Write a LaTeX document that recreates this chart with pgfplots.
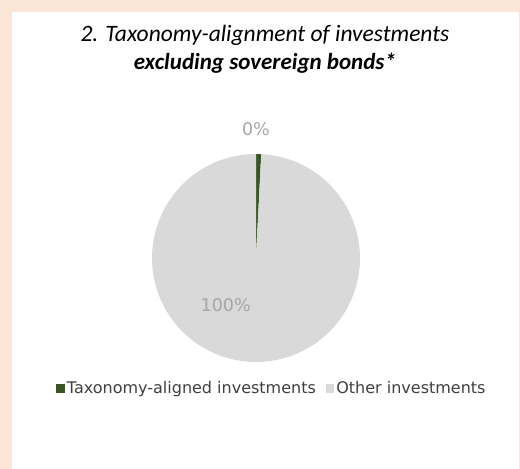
\documentclass[border=0pt]{standalone}
\usepackage{fontspec}
\setmainfont{Carlito}
\newfontfamily\verd{DejaVu Sans}
\usepackage{pgfplots}
\pgfplotsset{compat=1.18}
\usepgfplotslibrary{polar}
\usepackage{pgfplotstable}
\definecolor{peach}{HTML}{FBE5D6}
\definecolor{slicegreen}{HTML}{375623}
\definecolor{slicegray}{HTML}{D9D9D9}
\definecolor{labgray}{HTML}{A6A6A6}
\definecolor{legtext}{HTML}{404040}

% shares of the pie (percent)
\pgfplotstableread{
cat share
aligned 0.8
other 99.2
}\pietable
\pgfplotstablegetelem{0}{share}\of\pietable \let\shareA\pgfplotsretval
\pgfplotstablegetelem{1}{share}\of\pietable \let\shareB\pgfplotsretval
\pgfmathsetmacro\angA{90-3.6*\shareA}
\pgfmathsetmacro\angB{\angA-3.6*\shareB}

\begin{document}
\begin{tikzpicture}[x=1pt,y=1pt]
\fill[peach] (0,0) rectangle (520,469);
\fill[white] (12,0) rectangle (519,457);
\useasboundingbox (0,0) rectangle (520,469);
\node[font=\fontsize{23.5}{28}\selectfont\itshape] at (265,434) {2. Taxonomy-alignment of investments};
\node[font=\fontsize{23}{28}\selectfont\bfseries\itshape] at (265,406) {excluding sovereign bonds*};
\begin{polaraxis}[
  at={(256pt,211pt)}, anchor=origin,
  scale only axis, width=208pt, height=208pt,
  ymin=0, ymax=1, hide axis, clip=false,
  legend columns=2,
  legend style={at={(0.577,-0.125)}, anchor=center, draw=none, fill=none,
    font=\verd\fontsize{16}{19}\selectfont, text=legtext,
    /tikz/every even column/.append style={column sep=8pt},
    /tikz/every odd column/.append style={column sep=0pt}},
  legend image code/.code={\fill[#1] (0pt,-4.5pt) rectangle (8.5pt,4pt);},
]
\addplot[draw=none, fill=slicegreen, domain=\angA:90, samples=4] {1} -- (axis cs:0,0) -- cycle;
\addlegendentry{Taxonomy-aligned investments}
\addplot[draw=none, fill=slicegray, domain=\angB:\angA, samples=150] {1} -- (axis cs:0,0) -- cycle;
\addlegendentry{Other investments}
\node[font=\verd\fontsize{17.5}{20}\selectfont, text=labgray] at (axis cs:90,1.24) {0\%};
\node[font=\verd\fontsize{17.5}{20}\selectfont, text=labgray] at (axis cs:237.4,0.54) {100\%};
\end{polaraxis}
\end{tikzpicture}
\end{document}
